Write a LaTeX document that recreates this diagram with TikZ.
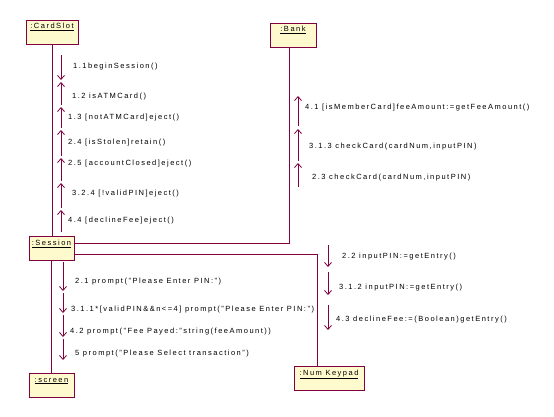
\documentclass[tikz,border=0pt]{standalone}
\usepackage{fontspec}
\setmainfont{Liberation Sans}[LetterSpace=20]
\usetikzlibrary{arrows.meta}

\definecolor{umlline}{RGB}{128,0,64}
\definecolor{objfill}{RGB}{255,250,205}

\begin{document}
\begin{tikzpicture}[
  x=1pt, y=-1pt,
  font=\fontsize{7.5}{8}\selectfont,
  obj/.style={draw=umlline, fill=objfill, line width=0.8pt, inner sep=2pt,
    text height=7pt, text depth=13pt, align=center},
  msg/.style={anchor=west, inner sep=0pt},
  link/.style={draw=umlline, line width=0.8pt},
  call/.style={draw=umlline, line width=0.8pt, -{Straight Barb[length=4pt,width=7pt]}}
]
\useasboundingbox (0,0) rectangle (554,417);

% objects
\node[obj, minimum width=52pt] (cardslot) at (52,32) {\underline{:CardSlot}};
\node[obj, minimum width=46pt] (bank) at (293,35) {\underline{:Bank}};
\node[obj, minimum width=45pt] (session) at (51.5,248.5) {\underline{:Session}};
\node[obj, minimum width=45pt] (screen) at (51.5,385) {\underline{:screen}};
\node[obj, minimum width=70pt] (keypad) at (329,378) {\underline{:Num Keypad}};

% links
\coordinate (bankbend) at (289,243);
\coordinate (keybend) at (317,254);
\draw[link] (cardslot.south) -- (cardslot.south |- session.north);
\draw[link] (session.east |- bankbend) -- (bankbend) -- (bankbend |- bank.south);
\draw[link] (session.east |- keybend) -- (keybend) -- (keybend |- keypad.north);
\draw[link] (session.south) -- (screen.north);

% messages
\foreach \nm/\x/\ya/\yb in {
  a11/61/55/80, a12/61/105/82, a13/61/128/107, a24/61/156/130,
  a25/61/181/158, a324/61/208/183, a44/61/232/210,
  a41/298/126/96, a313/298/161/129, a23/298/187/163,
  a22/328/245/267, a312/328/272/295, a43/328/305/330,
  a21/63/262/291, a311/63/293/313, a42/63/315/337, a5/63/339/360}
{
  \coordinate (\nm s) at (\x,\ya);
  \coordinate (\nm e) at (\x,\yb);
  \draw[call] (\nm s) -- (\nm e);
}

\node[msg] (m11) at (73,67) {1.1beginSession()};
\node[msg] (m12) at (72,97) {1.2 isATMCard()};
\node[msg] (m13) at (68,118) {1.3 [notATMCard]eject()};
\node[msg] (m24) at (68,143) {2.4 [isStolen]retain()};
\node[msg] (m25) at (68,164) {2.5 [accountClosed]eject()};
\node[msg] (m324) at (72,194) {3.2.4 [!validPIN]eject()};
\node[msg] (m44) at (68,221) {4.4 [declineFee]eject()};

\node[msg] (m41) at (305,108) {4.1 [isMemberCard]feeAmount:=getFeeAmount()};
\node[msg] (m313) at (309,147) {3.1.3 checkCard(cardNum,inputPIN)};
\node[msg] (m23) at (312,178) {2.3 checkCard(cardNum,inputPIN)};

\node[msg] (m22) at (342,257) {2.2 inputPIN:=getEntry()};
\node[msg] (m312) at (339,288) {3.1.2 inputPIN:=getEntry()};
\node[msg] (m43) at (336,320) {4.3 declineFee:=(Boolean)getEntry()};

\node[msg] (m21) at (75,282) {2.1 prompt("Please Enter PIN:")};
\node[msg] (m311) at (71,310) {3.1.1*[validPIN\&\&n<=4] prompt("Please Enter PIN:")};
\node[msg] (m42) at (70,332) {4.2 prompt("Fee Payed:"string(feeAmount))};
\node[msg] (m5) at (75,354) {5 prompt("Please Select transaction")};

\end{tikzpicture}
\end{document}
